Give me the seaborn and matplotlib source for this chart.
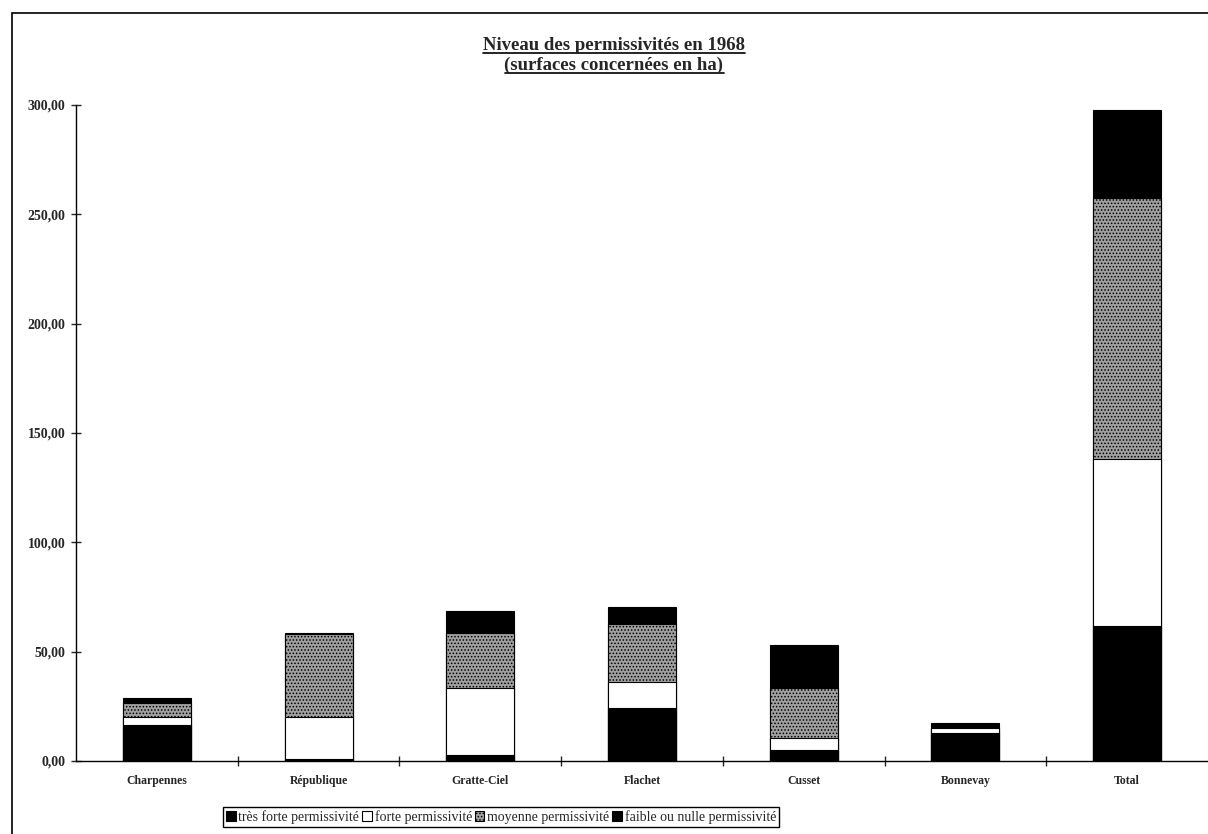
import pandas as pd
import seaborn as sns
import matplotlib.pyplot as plt
from matplotlib.patches import Patch, Rectangle
from matplotlib.lines import Line2D
from matplotlib.ticker import FuncFormatter, FixedLocator

sns.set_style("white")
plt.rcParams['font.family'] = ['Liberation Serif', 'DejaVu Serif']
plt.rcParams['hatch.linewidth'] = 0.7

quartiers = ["Charpennes", "République", "Gratte-Ciel", "Flachet", "Cusset", "Bonnevay", "Total"]
tres_forte = [16.5, 0.8, 2.7, 24.4, 5.0, 12.7, 61.7]
forte = [3.5, 19.5, 30.6, 11.9, 5.3, 2.3, 76.5]
moyenne = [6.5, 37.6, 25.1, 26.4, 22.9, 0.0, 119.4]
faible = [2.3, 0.5, 10.1, 7.6, 19.8, 2.6, 40.0]
niveaux = ["très forte permissivité", "forte permissivité",
           "moyenne permissivité", "faible ou nulle permissivité"]

df = pd.DataFrame({"quartier": quartiers,
                   niveaux[0]: tres_forte, niveaux[1]: forte,
                   niveaux[2]: moyenne, niveaux[3]: faible})
cum = df[niveaux].cumsum(axis=1)

W, H = 1208, 834
fig = plt.figure(figsize=(W / 100, H / 100), dpi=100)
ax = fig.add_axes([76 / W, 1 - 761 / H, 1 - 76 / W, (761 - 105) / H])

styles = [dict(color='black'), dict(color='white'),
          dict(color='#a0a0a0', hatch='.....'), dict(color='black')]

# stacked bars: draw cumulative totals from the top layer down
for niv, st in reversed(list(zip(niveaux, styles))):
    sns.barplot(x=df['quartier'], y=cum[niv], ax=ax, width=0.42, saturation=1,
                edgecolor='black', linewidth=0.8, errorbar=None, **st)

ax.set_xlabel("")
ax.set_ylabel("")
ax.set_xlim(-0.5, 6.5)
ax.set_ylim(0, 300)
ax.set_yticks(range(0, 301, 50))
ax.yaxis.set_major_formatter(FuncFormatter(lambda v, p: f"{v:.2f}".replace('.', ',')))
ax.xaxis.set_minor_locator(FixedLocator([i + 0.5 for i in range(6)]))

for s in ['top', 'right']:
    ax.spines[s].set_visible(False)
for s in ['left', 'bottom']:
    ax.spines[s].set_color('black')
    ax.spines[s].set_linewidth(1)

ax.tick_params(axis='y', left=True, direction='inout', length=7, width=1, pad=4, labelsize=10)
ax.tick_params(axis='x', which='major', bottom=True, length=0, pad=10, labelsize=8.5)
ax.tick_params(axis='x', which='minor', bottom=True, direction='inout', length=7, width=1)
for lab in ax.get_xticklabels() + ax.get_yticklabels():
    lab.set_fontweight('bold')
ax.grid(False)

# outer frame of the chart area
fig.add_artist(Rectangle((12 / W, -0.1), 1.1, 1 - 13 / H + 0.1, transform=fig.transFigure,
                         fill=False, edgecolor='black', linewidth=1.2, clip_on=False))

t1 = fig.text(614 / W, 1 - 45 / H, "Niveau des permissivités en 1968",
              ha='center', va='center', fontsize=13.5, fontweight='bold')
t2 = fig.text(614 / W, 1 - 65 / H, "(surfaces concernées en ha)",
              ha='center', va='center', fontsize=13.5, fontweight='bold')

fig.canvas.draw()
for t in (t1, t2):
    bb = t.get_window_extent()
    y = (bb.y0 + 1) / H
    fig.add_artist(Line2D([bb.x0 / W, bb.x1 / W], [y, y], transform=fig.transFigure,
                          color='black', linewidth=1.2))

handles = [Patch(facecolor=st['color'], edgecolor='black', hatch=st.get('hatch'), linewidth=0.8)
           for st in styles]
fig.legend(handles, niveaux, loc='center', bbox_to_anchor=(501 / W, 1 - 817 / H), ncol=4,
           fontsize=10, frameon=True, fancybox=False, edgecolor='black', framealpha=1,
           handlelength=0.7, handleheight=0.7, handletextpad=0.2, columnspacing=0.2,
           borderpad=0.2, borderaxespad=0)

fig.savefig("out.png", dpi=100)
